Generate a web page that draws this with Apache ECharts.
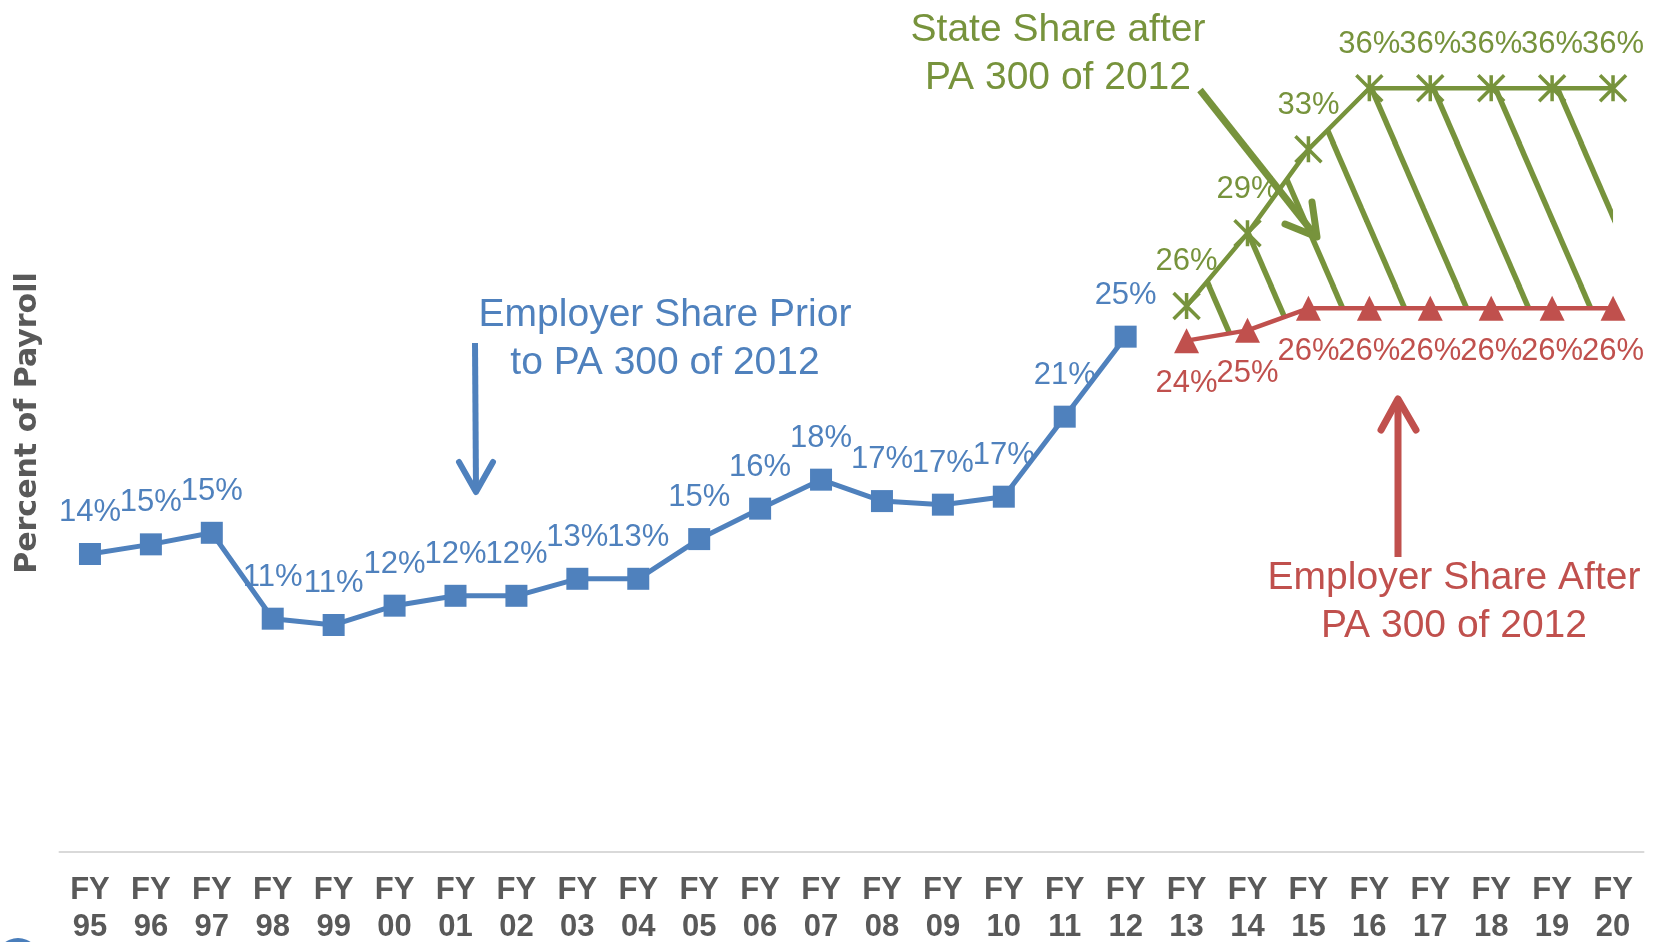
<!DOCTYPE html>
<html>
<head>
<meta charset="utf-8">
<title>Employer and State Share of Payroll</title>
<script src="https://cdn.jsdelivr.net/npm/echarts@6/dist/echarts.min.js"></script>
<style>
  html, body { margin: 0; padding: 0; background: #fff; }
  #chart { width: 1655px; height: 942px; }
</style>
</head>
<body>
<div id="chart"></div>
<script>
// fiscal years on the x axis
const categories = ['FY\n95', 'FY\n96', 'FY\n97', 'FY\n98', 'FY\n99', 'FY\n00', 'FY\n01', 'FY\n02', 'FY\n03',
  'FY\n04', 'FY\n05', 'FY\n06', 'FY\n07', 'FY\n08', 'FY\n09', 'FY\n10', 'FY\n11', 'FY\n12', 'FY\n13',
  'FY\n14', 'FY\n15', 'FY\n16', 'FY\n17', 'FY\n18', 'FY\n19', 'FY\n20']

// percent of payroll
const employerPrior = [14.19, 14.65, 15.2, 11.11, 10.81, 11.73, 12.2, 12.2, 13.01, 13.01, 14.9, 16.35, 17.73,
  16.71, 16.54, 16.92, 20.73, 24.54, null, null, null, null, null, null, null, null]
const employerAfter = [null, null, null, null, null, null, null, null, null, null, null, null, null, null, null,
  null, null, null, 24.35, 24.84, 25.89, 25.89, 25.89, 25.89, 25.89, 25.89]
const stateAfter = [null, null, null, null, null, null, null, null, null, null, null, null, null, null, null,
  null, null, null, 26.0, 29.46, 33.46, 36.37, 36.37, 36.37, 36.37, 36.37]

const BLUE = '#4f81bd'
const RED = '#c0504d'
const GREEN = '#77933c'
const GREY = '#595959'

// band between employer share and state share (hatched)
const bandBase = employerAfter
const bandSize = stateAfter.map((v, i) => (v == null || employerAfter[i] == null) ? null : v - employerAfter[i])

// diagonal hatch pattern
function makeHatch () {
  const w = 62
  const slope = 2.3
  const h = Math.round(w * slope)
  const cv = document.createElement('canvas')
  cv.width = w
  cv.height = h
  const ctx = cv.getContext('2d')
  ctx.strokeStyle = GREEN
  ctx.lineWidth = 5.5
  const x0 = 31
  for (let k = -3; k <= 3; k++) {
    ctx.beginPath()
    ctx.moveTo(x0 + k * w - 40, -40 * slope)
    ctx.lineTo(x0 + k * w + w + 40, (w + 40) * slope)
    ctx.stroke()
  }
  return cv
}

const pct = p => Math.round(p.value) + '%'
const labelFont = { fontFamily: '"Liberation Sans", Arial, sans-serif', fontSize: 31 }

const chart = echarts.init(document.getElementById('chart'))
const option = {
  animation: false,
  grid: { left: 59.5, right: 11.5, top: 12, bottom: 90, outerBoundsMode: 'none' },
  xAxis: {
    type: 'category',
    data: categories,
    axisLine: { lineStyle: { color: '#d9d9d9', width: 2 } },
    axisTick: { length: 10, lineStyle: { color: '#d9d9d9', width: 2 } },
    axisLabel: {
      margin: 20,
      color: GREY,
      fontWeight: 'bold',
      fontSize: 31,
      lineHeight: 37,
      fontFamily: '"Liberation Sans", Arial, sans-serif',
      interval: 0
    }
  },
  yAxis: {
    type: 'value',
    min: 0,
    max: 40,
    axisLine: { show: false },
    axisTick: { show: false },
    axisLabel: { show: false },
    splitLine: { show: false }
  },
  series: [
    {
      name: 'band base',
      type: 'line',
      data: bandBase,
      stack: 'band',
      symbol: 'none',
      silent: true,
      lineStyle: { width: 0, opacity: 0 },
      z: 1
    },
    {
      name: 'band',
      type: 'line',
      data: bandSize,
      stack: 'band',
      symbol: 'none',
      silent: true,
      lineStyle: { width: 0, opacity: 0 },
      areaStyle: { color: { image: makeHatch(), repeat: 'repeat' }, opacity: 1 },
      z: 1
    },
    {
      name: 'Employer Share After PA 300 of 2012',
      type: 'line',
      data: employerAfter,
      symbol: 'triangle',
      symbolSize: 25,
      itemStyle: { color: RED },
      lineStyle: { color: RED, width: 4.5 },
      label: { show: true, position: 'bottom', distance: 15, color: RED, formatter: pct, ...labelFont },
      z: 3
    },
    {
      name: 'State Share after PA 300 of 2012',
      type: 'line',
      data: stateAfter,
      symbol: 'path://M0,0L20,20M20,0L0,20M10,0L10,20',
      symbolSize: 26,
      itemStyle: { color: GREEN, borderColor: GREEN, borderWidth: 3.5 },
      lineStyle: { color: GREEN, width: 4.5 },
      label: { show: true, position: 'top', distance: 14, color: GREEN, formatter: pct, ...labelFont },
      z: 3
    },
    {
      name: 'Employer Share Prior to PA 300 of 2012',
      type: 'line',
      data: employerPrior,
      symbol: 'rect',
      symbolSize: 22,
      itemStyle: { color: BLUE },
      lineStyle: { color: BLUE, width: 5 },
      label: { show: true, position: 'top', distance: 15, color: BLUE, formatter: pct, ...labelFont },
      z: 3
    }
  ],
  graphic: [
    {
      type: 'text', x: 28, y: 423, rotation: Math.PI / 2, z: 5,
      style: {
        text: 'Percent of Payroll', font: 'bold 30px "DejaVu Sans", sans-serif', fill: GREY,
        textAlign: 'center', textVerticalAlign: 'middle', align: 'center', verticalAlign: 'middle'
      }
    },
    {
      type: 'text', x: 665, y: 339, z: 5,
      style: {
        text: 'Employer Share Prior\nto PA 300 of 2012', font: '39px "Liberation Sans", Arial, sans-serif',
        fill: BLUE, lineHeight: 48,
        textAlign: 'center', textVerticalAlign: 'middle', align: 'center', verticalAlign: 'middle'
      }
    },
    {
      type: 'text', x: 1058, y: 54, z: 5,
      style: {
        text: 'State Share after\nPA 300 of 2012', font: '39px "Liberation Sans", Arial, sans-serif',
        fill: GREEN, lineHeight: 48,
        textAlign: 'center', textVerticalAlign: 'middle', align: 'center', verticalAlign: 'middle'
      }
    },
    {
      type: 'text', x: 1454, y: 602, z: 5,
      style: {
        text: 'Employer Share After\nPA 300 of 2012', font: '39px "Liberation Sans", Arial, sans-serif',
        fill: RED, lineHeight: 48,
        textAlign: 'center', textVerticalAlign: 'middle', align: 'center', verticalAlign: 'middle'
      }
    },
    // arrows
    {
      type: 'polyline', z: 5,
      shape: { points: [[475, 343], [476, 490]] },
      style: { stroke: BLUE, lineWidth: 6, fill: null }
    },
    {
      type: 'polyline', z: 5,
      shape: { points: [[459, 462], [476, 492], [493, 462]] },
      style: { stroke: BLUE, lineWidth: 6, fill: null, lineCap: 'round', lineJoin: 'round' }
    },
    {
      type: 'polyline', z: 5,
      shape: { points: [[1398, 557], [1398, 401]] },
      style: { stroke: RED, lineWidth: 7, fill: null }
    },
    {
      type: 'polyline', z: 5,
      shape: { points: [[1381, 430], [1398, 399], [1416, 430]] },
      style: { stroke: RED, lineWidth: 7, fill: null, lineCap: 'round', lineJoin: 'round' }
    },
    {
      type: 'polyline', z: 5,
      shape: { points: [[1200, 90], [1314, 234]] },
      style: { stroke: GREEN, lineWidth: 7, fill: null }
    },
    {
      type: 'polyline', z: 5,
      shape: { points: [[1312, 202], [1317, 237], [1285, 224]] },
      style: { stroke: GREEN, lineWidth: 7, fill: null, lineCap: 'round', lineJoin: 'round' }
    },
    {
      type: 'circle', z: 5,
      shape: { cx: 18, cy: 960, r: 22 },
      style: { fill: '#4a7ebb' }
    }
  ]
}
chart.setOption(option)
</script>
</body>
</html>
